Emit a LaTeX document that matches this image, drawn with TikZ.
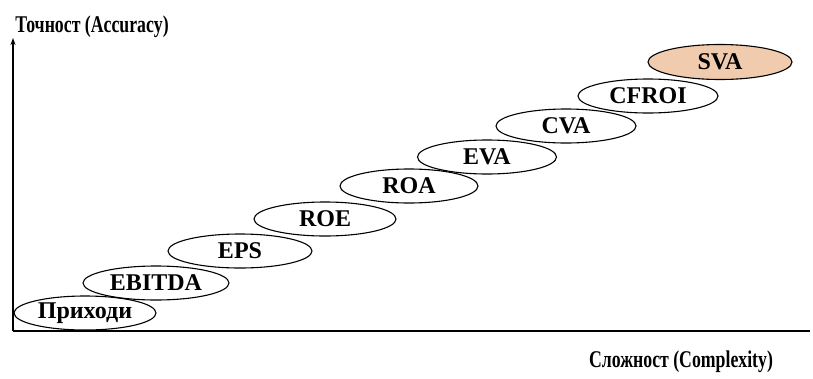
\documentclass[tikz,border=0pt]{standalone}
\usepackage{fontspec}
\setmainfont{Liberation Serif}
\usetikzlibrary{shapes.geometric,arrows.meta}
\definecolor{peach}{RGB}{241,203,173}
\tikzset{
  stage/.style={ellipse, draw=black, line width=1.1pt, minimum width=142pt, minimum height=34pt, inner sep=0pt, font=\fontsize{24}{24}\selectfont\bfseries},
  axis/.style={line width=1.4pt, draw=black},
  axlabel/.style={inner sep=0pt, font=\fontsize{24}{24}\selectfont\bfseries}
}
\begin{document}
\begin{tikzpicture}[x=1pt,y=-1pt]
\useasboundingbox (0,0) rectangle (813,378);
\coordinate (o) at (13,331);
\coordinate (ytop) at (13,38);
\coordinate (xend) at (810,331);
\draw[axis,-{Stealth[length=7pt,width=5pt]}] (o) -- (ytop);
\draw[axis] (o) -- (xend);
\node[axlabel] (ylab) at (92,27) {\scalebox{0.74}[1]{Точност (Accuracy)}};
\node[axlabel] (xlab) at (681,362) {\scalebox{0.74}[1]{Сложност (Complexity)}};
\node[stage] (e1) at (85,313) {Приходи};
\node[stage, minimum width=146pt] (e2) at (156,283) {EBITDA};
\node[stage, minimum width=144pt] (e3) at (240,251) {EPS};
\node[stage] (e4) at (325,219) {ROE};
\node[stage, minimum width=138pt] (e5) at (409,186) {ROA};
\node[stage, minimum width=139pt] (e6) at (487,157) {EVA};
\node[stage, minimum width=140pt] (e7) at (566,126) {CVA};
\node[stage, minimum width=140pt] (e8) at (648,96) {CFROI};
\node[stage, fill=peach, minimum width=144pt, minimum height=35pt] (e9) at (720,62) {SVA};
\end{tikzpicture}
\end{document}
